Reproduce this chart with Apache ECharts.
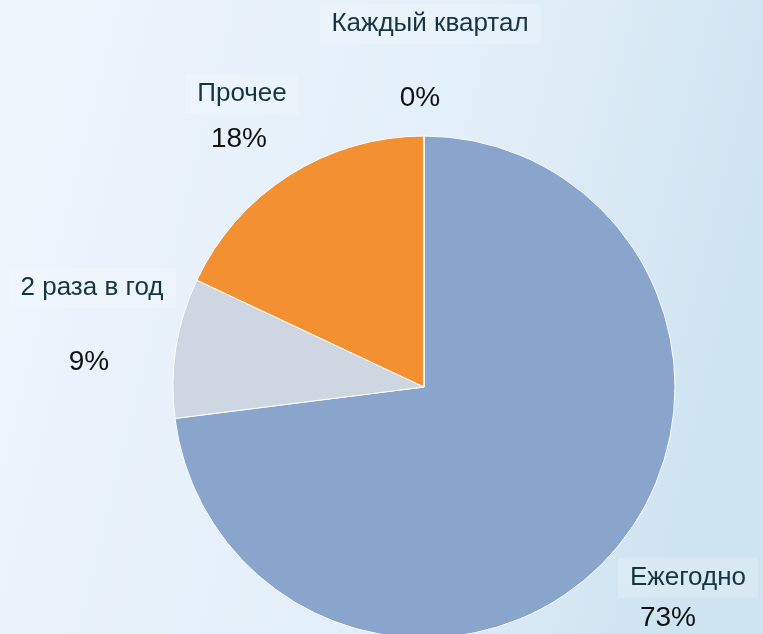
<!DOCTYPE html>
<html>
<head>
<meta charset="utf-8">
<script src="https://cdn.jsdelivr.net/npm/echarts@6/dist/echarts.min.js"></script>
<style>
html,body{margin:0;padding:0;}
#chart{width:763px;height:634px;}
</style>
</head>
<body>
<div id="chart"></div>
<script>
// Frequency shares (percent)
const categories = ['Ежегодно', '2 раза в год', 'Прочее', 'Каждый квартал'];
const values = [73, 9, 18, 0];
const colors = ['#8aa5cb', '#cdd6e1', '#f39032', '#4f81bd'];

// Label anchor points (centers) for names and percentages
const nameAnchor = [[688, 578], [92, 288], [242, 94], [430, 24]];
const valueAnchor = [[668, 618], [89, 362], [239, 139], [420, 98]];

const data = categories.map((c, i) => ({ name: c, value: values[i], itemStyle: { color: colors[i] } }));

const chart = echarts.init(document.getElementById('chart'));
const common = {
  type: 'pie',
  center: [424, 387],
  radius: 251,
  startAngle: 90,
  clockwise: true,
  animation: false,
  avoidLabelOverlap: false,
  labelLine: { show: false }
};

chart.setOption({
  backgroundColor: {
    type: 'linear', x: 0, y: 0, x2: 1, y2: 0.3,
    colorStops: [
      { offset: 0, color: '#eef5fd' },
      { offset: 0.6, color: '#e3eff9' },
      { offset: 1, color: '#cfe4f1' }
    ]
  },
  series: [
    Object.assign({}, common, {
      data: data,
      itemStyle: { borderColor: '#ffffff', borderWidth: 1 },
      label: {
        show: true,
        formatter: '{b}',
        fontFamily: '"Liberation Sans", Arial, sans-serif',
        fontSize: 26,
        color: '#17353f',
        backgroundColor: 'rgba(255,255,255,0.2)',
        padding: [7, 12]
      },
      labelLayout: p => ({ x: nameAnchor[p.dataIndex][0], y: nameAnchor[p.dataIndex][1], align: 'center', verticalAlign: 'middle' })
    }),
    Object.assign({}, common, {
      silent: true,
      data: data.map(d => ({ name: d.name, value: d.value, itemStyle: { color: 'rgba(0,0,0,0)' } })),
      label: {
        show: true,
        formatter: '{d}%',
        fontFamily: '"Liberation Sans", Arial, sans-serif',
        fontSize: 28,
        color: '#111111'
      },
      labelLayout: p => ({ x: valueAnchor[p.dataIndex][0], y: valueAnchor[p.dataIndex][1], align: 'center', verticalAlign: 'middle' })
    })
  ]
});
</script>
</body>
</html>
